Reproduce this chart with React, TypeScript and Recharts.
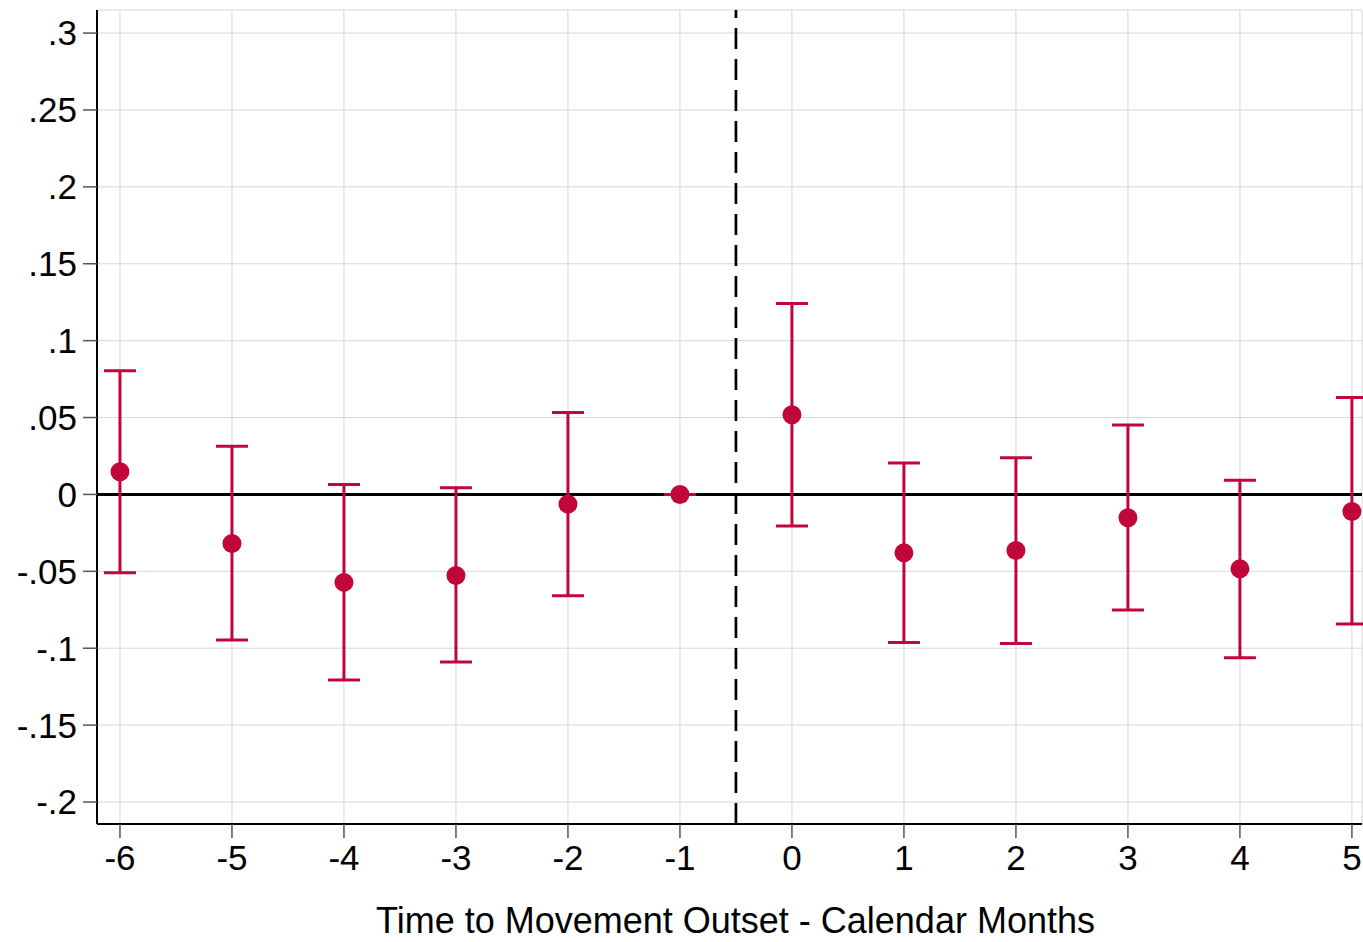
import React from 'react'
import { ComposedChart, Scatter, ErrorBar, XAxis, YAxis, CartesianGrid, ReferenceLine } from 'recharts'

// event-study coefficients, months relative to movement outset
const months = [-6, -5, -4, -3, -2, -1, 0, 1, 2, 3, 4, 5]
const coef = [0.0147, -0.0319, -0.0572, -0.0527, -0.0063, 0, 0.0518, -0.038, -0.0365, -0.0152, -0.0484, -0.0111]
const ciLow = [-0.051, -0.0947, -0.1207, -0.109, -0.0659, 0, -0.0206, -0.0963, -0.0969, -0.0752, -0.1062, -0.0843]
const ciHigh = [0.0804, 0.0314, 0.0065, 0.0043, 0.0533, 0, 0.1242, 0.0204, 0.0238, 0.0451, 0.0093, 0.0631]

const xTicks = [-6, -5, -4, -3, -2, -1, 0, 1, 2, 3, 4, 5]
const yTicks = [-0.2, -0.15, -0.1, -0.05, 0, 0.05, 0.1, 0.15, 0.2, 0.25, 0.3]

const RED = '#c0063a'
const FONT = '"Liberation Sans", Arial, sans-serif'

const data = months.map((m, i) => ({
  month: m,
  coef: coef[i],
  err: [coef[i] - ciLow[i], ciHigh[i] - coef[i]],
}))

const fmtY = (v: number) => {
  if (Math.abs(v) < 1e-9) return '0'
  const s = String(Math.round(v * 100) / 100)
  return s.replace('0.', '.')
}

const Dot = (props: any) => {
  const { cx, cy } = props
  if (cx == null || cy == null) return null
  return <circle cx={cx} cy={cy} r={9.5} fill={RED} />
}

export default function App() {
  return (
    <div style={{ position: 'absolute', left: 0, top: 0, background: '#fff' }}>
      <ComposedChart
        width={1363}
        height={942}
        data={data}
        margin={{ top: 10, right: 1, bottom: 0, left: 0 }}
      >
        <CartesianGrid stroke="#d8d8d8" strokeWidth={1} />
        <XAxis
          dataKey="month"
          type="number"
          domain={[-6.205, 5.09]}
          ticks={xTicks}
          allowDataOverflow
          height={118}
          tickSize={14}
          tickMargin={7}
          axisLine={{ stroke: '#000', strokeWidth: 2 }}
          tickLine={{ stroke: '#555', strokeWidth: 1.5 }}
          tick={{ fill: '#000', fontSize: 35, fontFamily: FONT }}
          label={{
            value: 'Time to Movement Outset - Calendar Months',
            position: 'insideBottom',
            offset: 9,
            dx: 6,
            fill: '#000',
            fontSize: 36,
            fontFamily: FONT,
          }}
        />
        <YAxis
          type="number"
          domain={[-0.2143, 0.315]}
          ticks={yTicks}
          allowDataOverflow
          width={97}
          tickSize={14}
          tickMargin={6}
          tickFormatter={fmtY}
          axisLine={{ stroke: '#000', strokeWidth: 2 }}
          tickLine={{ stroke: '#555', strokeWidth: 1.5 }}
          tick={{ fill: '#000', fontSize: 35, fontFamily: FONT }}
        />
        <ReferenceLine y={0} stroke="#000" strokeWidth={3} />
        <ReferenceLine x={-0.5} stroke="#000" strokeWidth={2.7} strokeDasharray="21 10" />
        <Scatter dataKey="coef" fill={RED} shape={<Dot />} isAnimationActive={false}>
          <ErrorBar dataKey="err" direction="y" width={16} stroke={RED} strokeWidth={3} />
        </Scatter>
      </ComposedChart>
    </div>
  )
}
